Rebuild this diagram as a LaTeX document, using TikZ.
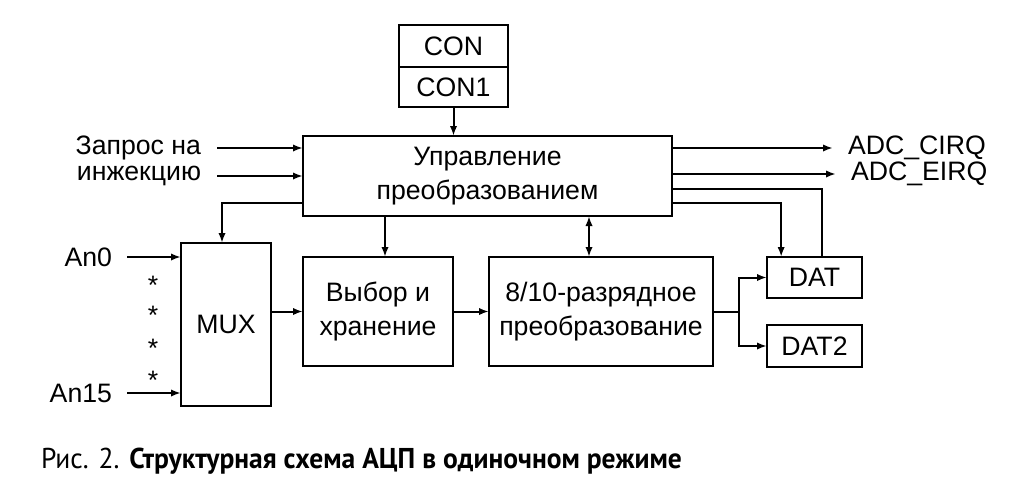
\documentclass[tikz,border=0pt]{standalone}
\usepackage{fontspec}
\setmainfont{Liberation Sans}
\newfontfamily\capfont[FakeStretch=0.96]{PT Sans}
\usetikzlibrary{arrows.meta}

\begin{document}
\begin{tikzpicture}[
        x=0.75pt, y=-0.75pt,
        line width=1.5pt,
        >={Latex[length=7.5pt,width=5.5pt]},
        font=\fontsize{20}{25}\selectfont
    ]

    \tikzstyle{block}=[draw, align=center, inner sep=0pt, outer sep=0pt]
    \tikzstyle{sig}=[inner sep=0pt, align=right]

    \useasboundingbox (0,0) rectangle (1024,492);

    % registers and blocks
    \node (con)  [block, minimum width=81.75pt, minimum height=31.5pt] at (453.5,46) {CON};
    \node (con1) [block, minimum width=81.75pt, minimum height=30pt] at (453.5,87) {CON1};
    \node (ctrl) [block, minimum width=276.75pt, minimum height=60pt] at (487.5,176) {Управление\\преобразованием};
    \node (mux)  [block, minimum width=67.5pt, minimum height=122.25pt] at (226,324.5) {MUX};
    \node (sh)   [block, minimum width=112.5pt, minimum height=81.75pt] at (378,311.5) {Выбор и\\хранение};
    \node (conv) [block, minimum width=168pt, minimum height=81.75pt] at (601,311.5) {8/10-разрядное\\преобразование};
    \node (dat)  [block, minimum width=71.25pt, minimum height=30.75pt] at (814.5,277.5) {DAT};
    \node (dat2) [block, minimum width=71.25pt, minimum height=31.5pt] at (814.5,346) {DAT2};

    % signals
    \node (req)  [sig, anchor=east] at (202,148) {Запрос на};
    \node (inj)  [sig, anchor=east] at (202,176) {инжекцию};
    \node (an0)  [sig, anchor=east] at (113,257) {An0};
    \node (an15) [sig, anchor=east] at (113,393) {An15};
    \node (cirq) [sig, anchor=west] at (847,148) {ADC\_CIRQ};
    \node (eirq) [sig, anchor=west] at (850,174) {ADC\_EIRQ};

    \foreach \y [count=\i] in {285,315,348,380}
        \node (dot\i) [sig] at (153,\y) {*};

    \draw[->] (con1.south) -- (con1.south |- ctrl.north);
    \draw[->] ([xshift=11.25]req.east) -- (req -| ctrl.west);
    \draw[->] ([xshift=11.25]inj.east) -- (inj -| ctrl.west);
    \draw[->] ([yshift=9.75]ctrl.south west) -| ([xshift=-3]mux.north);
    \draw[->] ([xshift=10.5]an0.east) -- (an0 -| mux.west);
    \draw[->] ([xshift=10.5]an15.east) -- (an15 -| mux.west);
    \draw[->] (sh.west -| mux.east) -- (sh.west);
    \draw[->] ([xshift=5.25]sh.north |- ctrl.south) -- ([xshift=5.25]sh.north);
    \draw[->] (sh) -- (conv);
    \draw[<->] ([xshift=-9]conv.north |- ctrl.south) -- ([xshift=-9]conv.north);
    \draw (conv.east) -- ++(26,0) coordinate (br);
    \draw[->] (br) |- (dat.west);
    \draw[->] (br) |- (dat2.west);

    \draw[->] ([yshift=21]ctrl.east) -- ([xshift=-10.5]cirq.west);
    \draw[->] ([yshift=1.5]ctrl.east) -- ([xshift=-10.5]eirq.west);
    \draw ([yshift=-9.75]ctrl.east) -| ([xshift=5.6]dat.north);
    \draw[->] ([yshift=-20.25]ctrl.east) -| ([xshift=-25]dat.north);

    % caption
    \node (cap) [anchor=base west, inner sep=0pt, font=\capfont\fontsize{21.5}{25}\selectfont]
        at (40,468) {Рис. 2. \textbf{Структурная схема АЦП в одиночном режиме}};

\end{tikzpicture}
\end{document}
